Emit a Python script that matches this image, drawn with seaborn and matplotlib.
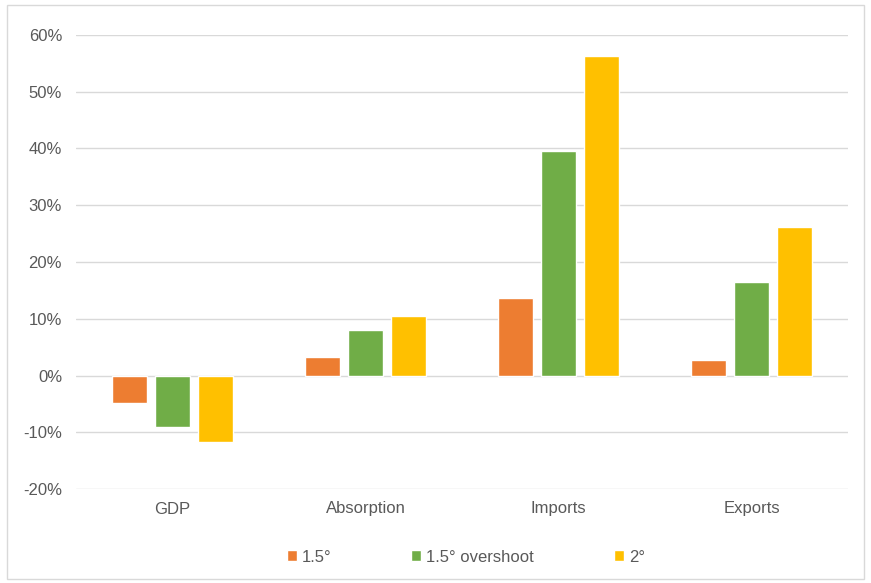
import pandas as pd
import matplotlib
matplotlib.use("Agg")
import matplotlib.pyplot as plt
import seaborn as sns
from matplotlib.patches import Rectangle
from matplotlib.ticker import PercentFormatter

categories = ["GDP", "Absorption", "Imports", "Exports"]
scenarios = ["1.5°", "1.5° overshoot", "2°"]
values_15 = [-4.9, 3.3, 13.7, 2.8]
values_15_over = [-9.1, 8.1, 39.6, 16.5]
values_2 = [-11.8, 10.4, 56.3, 26.1]
colors = ["#ED7D31", "#70AD47", "#FFC000"]

df = pd.DataFrame({
    "Category": categories * 3,
    "Scenario": [s for s in scenarios for _ in categories],
    "Value": values_15 + values_15_over + values_2,
})

sns.set_style("white")
plt.rcParams["font.family"] = ["Liberation Sans", "DejaVu Sans"]
plt.rcParams["axes.unicode_minus"] = False

fig = plt.figure(figsize=(8.71, 5.83), dpi=100)
ax = fig.add_axes([76 / 871, 1 - 489 / 583, 772 / 871, 454 / 583])

sns.barplot(data=df, x="Category", y="Value", hue="Scenario", order=categories,
            hue_order=scenarios, palette=colors, width=0.67, gap=0.19,
            saturation=1, ax=ax, legend=True)

ax.set_ylim(-20, 60)
ax.set_yticks(range(-20, 61, 10))
ax.yaxis.set_major_formatter(PercentFormatter(decimals=0))
ax.grid(axis="y", color="#D9D9D9", linewidth=1)
ax.set_axisbelow(True)
for s in ax.spines.values():
    s.set_visible(False)
ax.set_xlabel("")
ax.set_ylabel("")
ax.tick_params(axis="both", length=0, colors="#595959", labelsize=12)
ax.tick_params(axis="y", pad=10)
ax.tick_params(axis="x", pad=9)

handles, labels = ax.get_legend_handles_labels()
ax.legend_.remove()
fig.legend(handles, labels, loc="center", bbox_to_anchor=(0.535, 1 - 557 / 583),
           ncol=3, frameon=False, handlelength=0.6, handleheight=0.6,
           handletextpad=0.3, columnspacing=4.8, fontsize=12, labelcolor="#595959")

fig.patches.append(Rectangle((7 / 871, 4 / 583), 857 / 871, 574 / 583,
                             transform=fig.transFigure, fill=False,
                             edgecolor="#D9D9D9", linewidth=1))

fig.savefig("out.png", dpi=100)
